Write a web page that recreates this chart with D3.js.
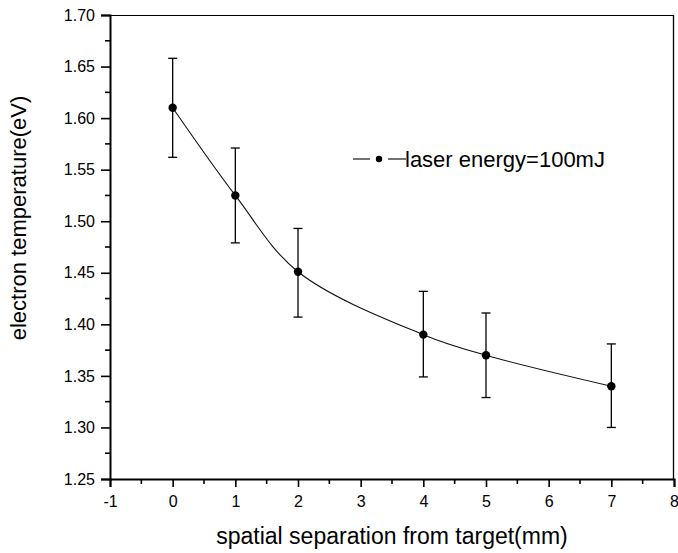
<!DOCTYPE html>
<html>
<head>
<meta charset="utf-8">
<style>
	body { margin: 0; background: #fff; }
	text { font-family: "Liberation Sans", Arial, sans-serif; fill: #000; }
</style>
</head>
<body>
<div id="chart"></div>
<script src="https://cdnjs.cloudflare.com/ajax/libs/d3/7.8.5/d3.min.js"></script>
<script>

// data
var xPos = [0, 1, 2, 4, 5, 7];
var temp = [1.610, 1.525, 1.451, 1.390, 1.370, 1.340];
var errLow = [1.562, 1.479, 1.407, 1.349, 1.329, 1.300];
var errHigh = [1.658, 1.571, 1.493, 1.432, 1.411, 1.381];
var xTicks = [-1, 0, 1, 2, 3, 4, 5, 6, 7, 8];
var yTicks = [1.25, 1.30, 1.35, 1.40, 1.45, 1.50, 1.55, 1.60, 1.65, 1.70];
var legendLabel = "laser energy=100mJ";

var W = 678, H = 553;
var pLeft = 110, pRight = 674, pTop = 15, pBottom = 479;

var svg = d3.select("#chart").append("svg").attr("width", W).attr("height", H);

var x = d3.scaleLinear().domain([-1, 8]).range([pLeft, pRight]);
var y = d3.scaleLinear().domain([1.25, 1.70]).range([pBottom, pTop]);

// frame - top and right thin
svg.append("line").attr("x1", pLeft).attr("x2", pRight).attr("y1", pTop + 0.5).attr("y2", pTop + 0.5)
	.attr("stroke", "#000").attr("stroke-width", 1.2);
svg.append("line").attr("x1", pRight - 0.5).attr("x2", pRight - 0.5).attr("y1", pTop).attr("y2", pBottom)
	.attr("stroke", "#000").attr("stroke-width", 1.3);

// axes
var xAxis = d3.axisBottom(x).tickValues(xTicks).tickSize(8).tickFormat(function(d) { return String(d); });
var yAxis = d3.axisLeft(y).tickValues(yTicks).tickSize(9).tickFormat(d3.format(".2f"));

var gx = svg.append("g").attr("transform", "translate(0," + pBottom + ")").call(xAxis);
var gy = svg.append("g").attr("transform", "translate(" + pLeft + ",0)").call(yAxis);

[gx, gy].forEach(function(g) {
	g.select(".domain").attr("stroke-width", 2).attr("stroke", "#000");
	g.selectAll(".tick line").attr("stroke-width", 1.6).attr("stroke", "#000");
	g.selectAll(".tick text").style("font-size", "16px").attr("fill", "#000");
});
gx.selectAll(".tick text").attr("dy", "0.71em").attr("y", 17);
gy.selectAll(".tick text").attr("x", -15);

// minor ticks
var xMinor = d3.range(-0.5, 8, 1);
gx.selectAll(".minor").data(xMinor).enter().append("line")
	.attr("x1", function(d) { return x(d); }).attr("x2", function(d) { return x(d); })
	.attr("y1", 0).attr("y2", 5).attr("stroke", "#000").attr("stroke-width", 1.6);
var yMinor = d3.range(1.275, 1.70, 0.05);
gy.selectAll(".minor").data(yMinor).enter().append("line")
	.attr("y1", function(d) { return y(d); }).attr("y2", function(d) { return y(d); })
	.attr("x1", 0).attr("x2", -5).attr("stroke", "#000").attr("stroke-width", 1.6);

// axis titles
svg.append("text").attr("x", (pLeft + pRight) / 2).attr("y", 544)
	.attr("text-anchor", "middle").style("font-size", "23px")
	.text("spatial separation from target(mm)");
svg.append("text").attr("transform", "translate(26,218) rotate(-90)")
	.attr("text-anchor", "middle").style("font-size", "22px")
	.text("electron temperature(eV)");

var pts = xPos.map(function(d, i) { return { x: d, y: temp[i], lo: errLow[i], hi: errHigh[i] }; });

// curve
var line = d3.line().x(function(d) { return x(d.x); }).y(function(d) { return y(d.y); })
	.curve(d3.curveCatmullRom.alpha(0.5));
svg.append("path").datum(pts).attr("d", line)
	.attr("fill", "none").attr("stroke", "#111").attr("stroke-width", 1.1);

// error bars
var eb = svg.append("g").attr("stroke", "#000").attr("stroke-width", 1.3);
eb.selectAll(".v").data(pts).enter().append("line")
	.attr("x1", function(d) { return x(d.x); }).attr("x2", function(d) { return x(d.x); })
	.attr("y1", function(d) { return y(d.lo); }).attr("y2", function(d) { return y(d.hi); });
eb.selectAll(".cl").data(pts).enter().append("line")
	.attr("x1", function(d) { return x(d.x) - 4.5; }).attr("x2", function(d) { return x(d.x) + 4.5; })
	.attr("y1", function(d) { return y(d.lo); }).attr("y2", function(d) { return y(d.lo); });
eb.selectAll(".ch").data(pts).enter().append("line")
	.attr("x1", function(d) { return x(d.x) - 4.5; }).attr("x2", function(d) { return x(d.x) + 4.5; })
	.attr("y1", function(d) { return y(d.hi); }).attr("y2", function(d) { return y(d.hi); });

// points
svg.selectAll(".pt").data(pts).enter().append("circle")
	.attr("cx", function(d) { return x(d.x); }).attr("cy", function(d) { return y(d.y); })
	.attr("r", 4.2).attr("fill", "#000");

// legend
var lg = svg.append("g");
lg.append("line").attr("x1", 353).attr("x2", 370).attr("y1", 159).attr("y2", 159).attr("stroke", "#000").attr("stroke-width", 1.1);
lg.append("circle").attr("cx", 379).attr("cy", 159).attr("r", 3.2).attr("fill", "#000");
lg.append("line").attr("x1", 388).attr("x2", 406).attr("y1", 159).attr("y2", 159).attr("stroke", "#000").attr("stroke-width", 1.1);
lg.append("text").attr("x", 405).attr("y", 167).style("font-size", "22px").text(legendLabel);

</script>
</body>
</html>
